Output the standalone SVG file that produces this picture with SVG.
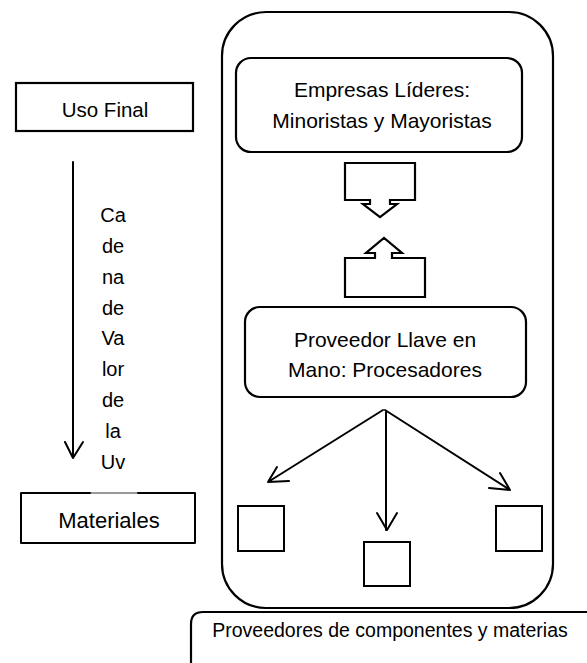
<svg xmlns="http://www.w3.org/2000/svg" width="587" height="663" viewBox="0 0 587 663">
<style>
.box{fill:#fff;stroke:#000;stroke-width:2.2}
.thin{fill:none;stroke:#000;stroke-width:2}
.conn{fill:none;stroke:#000;stroke-width:2;stroke-linecap:round;stroke-linejoin:round}
text{font-family:"Liberation Sans",Arial,sans-serif;fill:#000;text-anchor:middle}
.lbl{font-size:21px}
.col{font-size:20px}
</style>
<rect width="587" height="663" fill="#fff"/>
<g id="outer"><rect class="box" x="222" y="12" width="331" height="596" rx="44" ry="44" stroke-width="2.5"/></g>
<g id="bottom-box">
<path class="box" d="M191,663 V624 Q191,612 203,612 H590" stroke-width="2.5"/>
<text x="390" y="637" style="font-size:19.5px">Proveedores de componentes y materias</text>
</g>
<g id="uso-final">
<rect class="box" x="16" y="83" width="177" height="48" stroke-width="2.5"/>
<text x="105" y="117" style="font-size:20.5px">Uso Final</text>
</g>
<g id="materiales">
<rect x="21" y="493" width="174" height="50" fill="#fff" stroke="none"/>
<path class="conn" d="M90,493 H21 V543 H195 V493 H138" stroke-width="2.5" stroke-linecap="butt"/>
<line x1="90" y1="493" x2="138" y2="493" stroke="#000" stroke-width="0.8"/>
<text x="109" y="528" style="font-size:22px">Materiales</text>
</g>
<g id="cadena-label" class="col">
<text x="113" y="222">Ca</text>
<text x="113" y="253">de</text>
<text x="113" y="284">na</text>
<text x="113" y="315">de</text>
<text x="113" y="345">Va</text>
<text x="113" y="376">lor</text>
<text x="113" y="407">de</text>
<text x="113" y="438">la</text>
<text x="113" y="469">Uv</text>
</g>
<g id="empresas">
<rect class="box" x="236" y="58" width="286" height="94" rx="15" ry="15"/>
<text class="lbl" x="382" y="97">Empresas Líderes:</text>
<text class="lbl" x="382" y="128">Minoristas y Mayoristas</text>
</g>
<g id="down-callout">
<path class="box" d="M345,163 H415 V200 H390 V204 H397 L380,217 L363,204 H370 V200 H345 Z" stroke-width="2"/>
</g>
<g id="up-callout">
<path class="box" d="M345,297 H425 V258 H392 V253 H402 L384,238 L366,253 H375 V258 H345 Z" stroke-width="2"/>
</g>
<g id="proveedor">
<rect class="box" x="245" y="307" width="281" height="90" rx="15" ry="15"/>
<text class="lbl" x="385" y="347">Proveedor Llave en</text>
<text class="lbl" x="385" y="377">Mano: Procesadores</text>
</g>
<g id="sq-left"><rect class="thin" x="238" y="506" width="46" height="45"/></g>
<g id="sq-mid"><rect class="thin" x="364" y="542" width="46" height="44"/></g>
<g id="sq-right"><rect class="thin" x="496" y="506" width="46" height="45"/></g>
<g id="connectors">
<path class="conn" d="M73,162 V458 M65,442 L73,458 L83,442"/>
<path class="conn" d="M383,410 L268,482 M277,467 L268,482 L289,481"/>
<path class="conn" d="M386,412 V530 M377,513 L387,530 L397,513"/>
<path class="conn" d="M385,410 L510,490 M500,473 L510,490 L489,488"/>
</g>
</svg>
